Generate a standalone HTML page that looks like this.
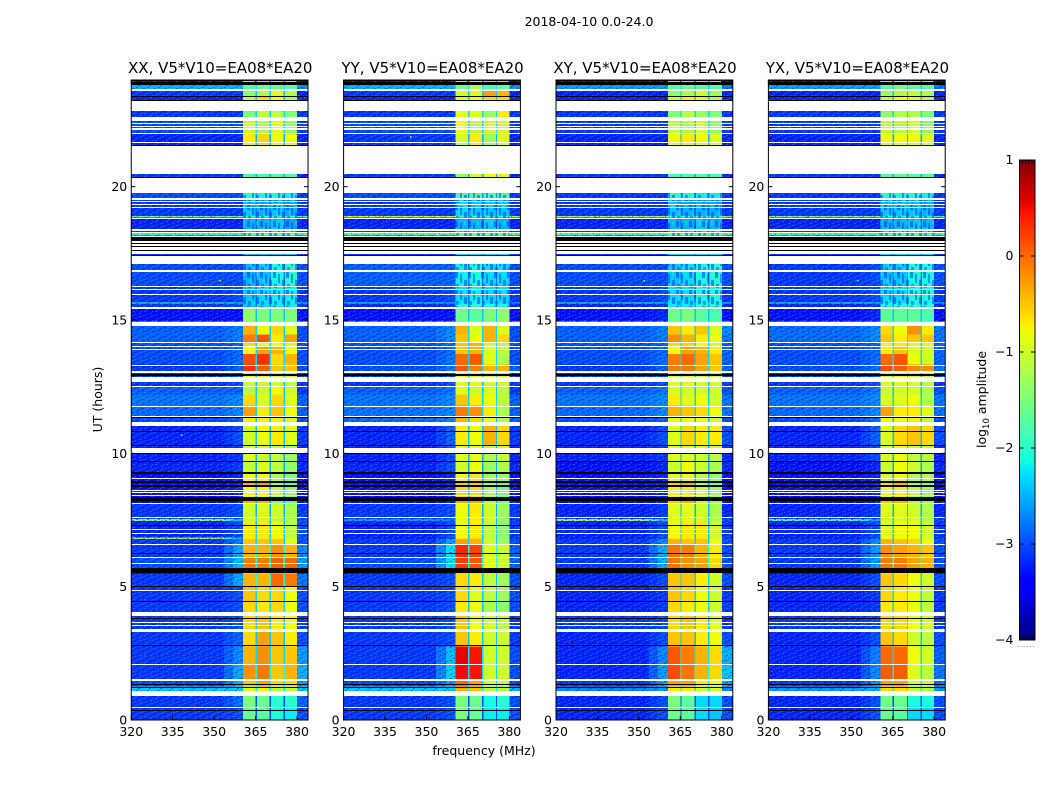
<!DOCTYPE html>
<html lang="en">
<head>
<meta charset="utf-8">
<title>2018-04-10 dynamic spectra</title>
<style>
html,body{margin:0;padding:0;background:#fff;width:1050px;height:800px;overflow:hidden}
svg{display:block}
text{font-family:"DejaVu Sans","Liberation Sans",sans-serif;fill:#000}
</style>
</head>
<body>
<svg id="chart" xmlns="http://www.w3.org/2000/svg" width="1050" height="800" viewBox="0 0 1050 800">
<defs>
<pattern id="speckle" patternUnits="userSpaceOnUse" width="11" height="9">
<g shape-rendering="crispEdges">
<rect x="0" y="0" width="2" height="1" fill="#30a0ff" opacity=".4"/>
<rect x="5" y="0" width="1" height="1" fill="#0000a0" opacity=".5"/>
<rect x="8" y="1" width="2" height="1" fill="#30a0ff" opacity=".45"/>
<rect x="2" y="1" width="2" height="1" fill="#0000a0" opacity=".4"/>
<rect x="6" y="2" width="1" height="1" fill="#30a0ff" opacity=".5"/>
<rect x="0" y="3" width="1" height="1" fill="#0000a0" opacity=".5"/>
<rect x="3" y="3" width="2" height="1" fill="#30a0ff" opacity=".4"/>
<rect x="9" y="3" width="2" height="1" fill="#0000a0" opacity=".4"/>
<rect x="6" y="4" width="2" height="1" fill="#0000a0" opacity=".45"/>
<rect x="1" y="5" width="2" height="1" fill="#30a0ff" opacity=".45"/>
<rect x="9" y="5" width="1" height="1" fill="#30a0ff" opacity=".45"/>
<rect x="4" y="6" width="2" height="1" fill="#0000a0" opacity=".45"/>
<rect x="0" y="7" width="2" height="1" fill="#0000a0" opacity=".4"/>
<rect x="7" y="7" width="2" height="1" fill="#30a0ff" opacity=".45"/>
<rect x="3" y="8" width="1" height="1" fill="#30a0ff" opacity=".45"/>
<rect x="10" y="8" width="1" height="1" fill="#0000a0" opacity=".45"/>
</g>
</pattern>
<pattern id="mottle" patternUnits="userSpaceOnUse" width="13" height="17">
<g shape-rendering="crispEdges">
<rect x="0" y="0" width="3" height="6" fill="#0030ff" opacity=".55"/>
<rect x="5" y="2" width="2" height="9" fill="#0030ff" opacity=".5"/>
<rect x="9" y="0" width="2" height="4" fill="#30ffc0" opacity=".35"/>
<rect x="3" y="7" width="2" height="5" fill="#30ffc0" opacity=".3"/>
<rect x="9" y="8" width="3" height="7" fill="#0030ff" opacity=".5"/>
<rect x="1" y="12" width="3" height="4" fill="#0030ff" opacity=".45"/>
<rect x="6" y="13" width="2" height="3" fill="#30ffc0" opacity=".3"/>
</g>
</pattern>
</defs>
<text x="589" y="26" text-anchor="middle" font-size="12.5">2018-04-10 0.0-24.0</text>
<text x="484" y="755" text-anchor="middle" font-size="12.5">frequency (MHz)</text>
<text transform="translate(102,399.5) rotate(-90)" text-anchor="middle" font-size="12.5">UT (hours)</text>
<text transform="translate(986,399.5) rotate(-90)" text-anchor="middle" font-size="12.5">log<tspan font-size="8.5" dy="3">10</tspan><tspan dy="-3"> amplitude</tspan></text>
</svg>
<script>
// --- axis tick values ---
const freqTicks = [320, 335, 350, 365, 380];
const utTicks = [0, 5, 10, 15, 20];
const colorTicks = [1, 0, -1, -2, -3, -4];

// --- polarisation panels ---
const panelNames = ["XX", "YY", "XY", "YX"];
const baselineLabel = ", V5*V10=EA08*EA20";

// --- frequency column edges (MHz): bg, shoulder-ramp, shoulder, A, gap, B, gap, C, gap, D, right ---
const freqEdges = [320, 353.5, 357, 360.5, 365, 365.5, 370.1, 370.6, 375.1, 375.6, 380, 384];

// --- UT row edges (hours), top to bottom ---
const utEdges = [24, 23.91, 23.65, 23.4, 22.85, 22.45, 22, 21.54, 20.34, 19.5, 18.9, 18.85, 18.41, 18.29, 18.16, 17.1, 16.28, 15.65, 15.61, 15.47, 15.41, 14.95, 14.91, 14.45, 14.16, 13.99, 13.72, 13.33, 13.03, 12.5, 12.2, 11.8, 11.4, 11.03, 10.3, 9.7, 9.3, 8.95, 8.8, 8.35, 8.1, 7.53, 7.47, 6.85, 6.79, 6.6, 6.11, 5.69, 5.5, 5.03, 4.45, 3.9, 3.3, 2.75, 2.1, 1.5, 1.25, 1, 0.5, 0];

// --- log10 amplitude per row: [bg, shoulder, A, B, C, D, gap, right] ---
const xxValues = [
[-3.5,-3.5,-1.6,-1.5,-1.6,-1.6,-3,-3.5],[-2.5,-2.5,-1.7,-1.5,-1.6,-1.7,-2.2,-2.7],[-3.1,-3.1,-1.4,-1.2,-0.9,-1.2,-2.4,-3.2],[-3.2,-3.2,-1.1,-0.6,-0.8,-1.3,-2.4,-3.2],[-3.1,-3.1,-1.5,-1.1,-1.1,-1.5,-2.3,-3.1],[-3,-3,-1,-1.2,-0.9,-1.4,-2.3,-3.1],[-3.2,-3.2,-0.7,-0.6,-0.8,-0.8,-2.5,-3.2],[-3.1,-3.1,-1.8,-1.8,-1.7,-1.8,-2.5,-3.2],[-3,-3,-2,-2.1,-2.1,-2.2,-2.6,-3.1],[-3.1,-3.1,-2.4,-2.5,-2.4,-2.5,-2.8,-3.1],
[-1.6,-1.6,-2,-2,-2,-2,-2.5,-1.7],[-3.2,-3.2,-2.5,-2.5,-2.4,-2.6,-2.9,-3.2],[-3.1,-3.1,-2.4,-2.4,-2.4,-2.4,-2.8,-3.1],[-1.9,-1.9,-1.6,-1.6,-1.6,-1.6,-2,-1.9],[-3.1,-3.1,-2.4,-2.4,-2.4,-2.4,-2.8,-3.1],[-3,-3,-2.5,-2.4,-2.1,-2,-2.8,-3],[-3.1,-3,-2.4,-2.3,-2.2,-2.2,-2.8,-3.1],[-1.8,-2.2,-2.3,-2.3,-2.2,-2.2,-2.6,-2.2],[-3.1,-3,-2.4,-2.3,-2.2,-2.2,-2.8,-3.1],[-0.7,-0.7,-1.5,-1.5,-1.5,-1.5,-1.5,-1],
[-3.3,-3.3,-1.4,-1.5,-1.5,-1.5,-2.4,-3.3],[-0.4,-0.5,-1,-1,-1,-1,-1.5,-0.8],[-2.9,-2.75,-0.4,-0.8,-0.6,-0.9,-2.3,-3],[-2.9,-2.75,-0.1,0.1,-0.7,-0.3,-2.3,-3],[-3,-2.9,-0.6,-0.8,-0.8,-1,-2.3,-3],[-3,-2.85,-0.8,-0.3,-0.4,-0.8,-2.3,-3],[-3,-2.85,0.15,0.3,-0.6,-0.4,-2.3,-3],[-3.1,-2.9,0.3,0.05,-0.5,-0.5,-2.3,-3],[-3.1,-3,-1,-1,-1,-1.1,-2.4,-3.1],[-2.9,-2.9,-1.1,-1,-0.8,-1,-2.4,-3.1],
[-2.8,-2.7,-0.6,-0.9,-0.6,-0.9,-2.3,-2.9],[-2.85,-2.7,-0.3,-0.7,-0.5,-0.8,-2.3,-2.9],[-3,-2.9,-0.7,-0.7,-0.7,-1,-2.4,-3],[-3.2,-3,-1,-0.8,-0.7,-0.9,-2.4,-3.1],[-3.2,-3.1,-0.9,-1,-1.1,-1.3,-2.5,-3.2],[-3.2,-3.1,-1.1,-0.9,-1.1,-1.4,-2.5,-3.2],[-3.3,-3.2,-0.8,-0.8,-1.2,-1.5,-2.6,-3.3],[-3.3,-3.2,-0.4,-0.3,-1.4,-1.7,-2.6,-3.3],[-3.3,-3.2,-0.8,-0.8,-1.1,-1.4,-2.5,-3.3],[-3.4,-3.3,-0.4,-0.4,-1.6,-1.8,-2.5,-3.3],
[-3.1,-3,-1,-0.9,-1,-1.2,-2.5,-3.1],[-1.4,-2.4,-1,-1,-1.2,-1.2,-2.2,-3],[-3.2,-3,-0.7,-0.7,-0.8,-1.1,-2.4,-3],[-1.2,-2.5,-0.7,-0.7,-0.7,-1,-2.2,-3],[-3.1,-2.8,-0.5,-0.5,-0.5,-0.9,-2.3,-3],[-3.1,-2.55,-0.4,-0.4,-0.2,-0.4,-2,-2.7],[-3,-2.45,-0.1,-0.1,0.05,0,-2,-2.6],[-3.4,-3.3,-0.8,-0.8,-0.6,-0.6,-2.5,-3.4],[-3.1,-2.55,-0.4,-0.4,0,-0.1,-2,-2.8],[-3.1,-3,-0.5,-0.6,-0.6,-0.8,-2.3,-3],
[-3.1,-3,-0.6,-0.7,-0.6,-0.8,-2.3,-3],[-3.1,-3,-0.6,-0.5,-0.7,-0.8,-2.4,-3.1],[-3.1,-2.9,-0.6,-0.3,-0.5,-0.7,-2.4,-3],[-3.1,-2.7,-0.4,-0.2,-0.5,-0.5,-2.3,-2.6],[-3.1,-2.55,-0.2,-0.1,-0.5,-0.4,-2.1,-2.5],[-3,-2.5,-0.5,-0.3,-0.6,-0.6,-2.2,-2.6],[-2.4,-2.4,-0.9,-0.9,-1.1,-1.1,-2.2,-2.4],[-3.1,-2.85,-1.5,-1.6,-2,-2,-3,-2.9],[-3.1,-3,-1.6,-1.7,-2.1,-2.2,-3,-3]];
const yyValues = [
[-3.5,-3.5,-1.5,-1.3,-1.6,-1.6,-3,-3.5],[-2.5,-2.5,-1.6,-1.2,-1.8,-1.6,-2.2,-2.7],[-3.1,-3.1,-1,-0.9,-0.3,-0.4,-2.4,-3.2],[-3.2,-3.2,-0.9,-0.8,-0.6,-0.6,-2.4,-3.2],[-3.1,-3.1,-0.9,-0.9,-1.3,-0.7,-2.3,-3.1],[-3,-3,-0.8,-1.2,-1,-1,-2.3,-3.1],[-3.1,-3.1,-1,-0.7,-1.3,-0.9,-2.5,-3.2],[-3.1,-3.1,-1.3,-1,-0.8,-0.9,-2.5,-3.2],[-3,-3,-1.8,-1.7,-1.8,-1.8,-2.6,-3.1],[-3.1,-3.1,-2.3,-2.4,-2.4,-2.4,-2.8,-3.1],
[-1,-1,-2,-2,-2,-2,-2.5,-1.2],[-3.2,-3.2,-2.5,-2.5,-2.4,-2.5,-2.9,-3.2],[-3.1,-3.1,-2.4,-2.4,-2.4,-2.4,-2.8,-3.1],[-1.7,-1.7,-1.5,-1.5,-1.5,-1.5,-2,-1.7],[-3.1,-3.1,-2.3,-2.3,-2.3,-2.3,-2.8,-3.1],[-2.9,-2.9,-2.2,-2.1,-2.3,-2.3,-2.8,-3],[-3.1,-3,-2.3,-2.2,-2.3,-2.3,-2.8,-3.1],[-2.1,-2.4,-2.3,-2.2,-2.3,-2.3,-2.6,-2.5],[-3.2,-3.1,-2.1,-2,-2.1,-2.1,-2.6,-3.2],[-3.2,-3.1,-1.7,-1.8,-1.6,-1.5,-2.4,-3.2],
[-3.3,-3.3,-1.6,-1.7,-1.5,-1.4,-2.4,-3.3],[-1,-1.1,-1.1,-1.1,-1.1,-1.1,-1.5,-1.2],[-2.9,-2.7,-0.4,-0.9,-0.4,-0.9,-2.3,-3],[-2.9,-2.7,-0.5,-0.8,-0.4,-0.6,-2.3,-3],[-3,-2.85,-0.5,-0.4,-1,-1.1,-2.3,-3],[-3,-2.85,-0.5,-0.4,-0.9,-1.1,-2.3,-3],[-3,-2.8,0,0.1,-0.9,-1.2,-2.3,-3],[-3,-2.8,0.1,-0.1,-0.4,-0.4,-2.3,-2.9],[-3.1,-3,-0.9,-0.9,-1,-1,-2.4,-3.1],[-2.9,-2.8,-0.9,-1,-0.9,-1.1,-2.4,-3.1],
[-2.8,-2.7,-0.5,-0.7,-0.8,-1.1,-2.3,-2.9],[-2.8,-2.7,-0.1,-0.2,-0.7,-1.2,-2.3,-2.9],[-2.85,-2.75,-0.4,-0.6,-0.8,-1.2,-2.4,-2.9],[-3.2,-2.9,-0.7,-0.8,-0.4,-0.6,-2.4,-3.1],[-3.2,-3,-0.9,-0.8,-1.2,-1,-2.5,-3.2],[-3.2,-3,-1,-0.8,-1.3,-1.2,-2.5,-3.2],[-3.3,-3.2,-0.8,-0.7,-1.3,-1.3,-2.6,-3.3],[-3.3,-3.2,-0.5,-0.5,-1.3,-1.6,-2.6,-3.3],[-3.3,-3.2,-0.6,-0.6,-1.3,-1.5,-2.5,-3.3],[-3.4,-3.3,-0.3,-0.3,-1.2,-1.6,-2.5,-3.3],
[-3.1,-3,-0.8,-0.7,-1,-1.3,-2.5,-3.1],[-2.6,-2.8,-0.9,-0.7,-1,-1.3,-2.5,-3.1],[-3.2,-3,-0.8,-0.7,-1.1,-1.4,-2.4,-3.1],[-3.2,-3,-0.7,-0.6,-1.1,-1.4,-2.4,-3.1],[-3.1,-2.6,-0.3,-0.4,-1,-1.3,-2.3,-3],[-3.1,-2.25,0.35,0.2,-0.9,-1,-2.1,-2.9],[-3,-2.25,0.25,0.1,-0.9,-1,-2.1,-2.9],[-3.4,-3.3,-0.6,-0.6,-1.1,-1.3,-2.5,-3.4],[-3.1,-3,-0.6,-0.7,-1.1,-1.3,-2.4,-3],[-3.1,-3,-0.6,-0.9,-1.1,-1.3,-2.4,-3],
[-3.1,-3,-0.7,-0.8,-1.2,-1.4,-2.4,-3],[-3.1,-3,-0.5,-0.8,-1,-1.1,-2.4,-3.1],[-3.1,-3,-0.5,-0.7,-1,-1,-2.4,-3.1],[-3.1,-2.45,0.55,0.45,-1,-1,-2.3,-3],[-3.1,-2.35,0.5,0.45,-1,-1,-2.3,-3],[-3,-2.6,0,-0.3,-1,-1.1,-2.3,-3],[-2.4,-2.4,-0.4,-0.5,-1.1,-1.2,-2.2,-2.5],[-3.1,-3,-1.5,-1.6,-2.1,-2,-3,-3],[-3.1,-3,-1.5,-1.6,-2.2,-2.2,-3,-3]];
const xyValues = [
[-3.5,-3.5,-1.6,-1.5,-1.6,-1.6,-3,-3.5],[-2.6,-2.6,-1.7,-1.6,-1.7,-1.7,-2.3,-2.8],[-3.2,-3.2,-1.4,-1.2,-1,-1.3,-2.4,-3.2],[-3.2,-3.2,-1.1,-0.7,-0.9,-1.2,-2.4,-3.2],[-3.1,-3.1,-1.5,-1.1,-1.3,-1.5,-2.3,-3.1],[-3.1,-3.1,-1.1,-1.2,-1,-1.4,-2.3,-3.1],[-3.2,-3.2,-0.8,-0.7,-0.8,-0.9,-2.5,-3.2],[-3.1,-3.1,-1.8,-1.8,-1.7,-1.8,-2.5,-3.2],[-3.1,-3.1,-2,-2.1,-2.2,-2.2,-2.6,-3.1],[-3.1,-3.1,-2.4,-2.5,-2.5,-2.5,-2.8,-3.1],
[-1.2,-1.2,-2,-2,-2,-2,-2.5,-1.4],[-3.2,-3.2,-2.5,-2.5,-2.4,-2.5,-2.9,-3.2],[-3.1,-3.1,-2.4,-2.4,-2.4,-2.4,-2.8,-3.1],[-1.8,-1.8,-1.6,-1.6,-1.6,-1.6,-2,-1.8],[-3.1,-3.1,-2.3,-2.3,-2.3,-2.3,-2.8,-3.1],[-3,-3,-2.4,-2.3,-2.1,-2,-2.8,-3],[-3.1,-3,-2.3,-2.3,-2.1,-2.1,-2.8,-3.1],[-1.8,-2.2,-2.3,-2.3,-2.2,-2.2,-2.6,-2.2],[-3.2,-3.1,-2.2,-2.2,-2,-2,-2.6,-3.2],[-0.8,-0.8,-1.6,-1.6,-1.6,-1.6,-1.8,-1.2],
[-3.3,-3.2,-1.6,-1.5,-1.7,-1.8,-2.4,-3.3],[-0.6,-0.7,-1.2,-1.2,-1.2,-1.2,-1.5,-1],[-2.9,-2.75,-0.5,-0.7,-0.5,-0.9,-2.3,-2.7],[-2.9,-2.75,-0.2,-0.4,-0.7,-0.8,-2.3,-2.8],[-3,-2.9,-0.6,-0.6,-0.8,-1,-2.3,-2.9],[-3,-2.85,-0.8,-0.3,-0.4,-0.7,-2.3,-2.9],[-3,-2.85,-0.1,0,-0.3,-0.5,-2.3,-2.9],[-3.1,-2.9,-0.1,-0.1,-0.3,-0.5,-2.3,-2.9],[-3.1,-3,-0.9,-0.9,-1,-1,-2.4,-3.1],[-2.9,-2.8,-0.9,-1,-1,-1,-2.4,-3],
[-2.8,-2.7,-0.7,-0.9,-0.8,-1,-2.3,-2.8],[-2.85,-2.7,-0.4,-0.5,-0.6,-0.8,-2.3,-2.8],[-3,-2.9,-0.8,-0.8,-0.8,-1,-2.4,-3],[-3.2,-3,-0.9,-0.6,-0.7,-0.7,-2.4,-3],[-3.2,-3.1,-0.9,-0.9,-1,-1.1,-2.5,-3.2],[-3.3,-3.2,-1,-0.8,-1,-1.2,-2.5,-3.2],[-3.3,-3.2,-0.9,-0.8,-1.1,-1.4,-2.6,-3.3],[-3.3,-3.2,-0.5,-0.4,-1.1,-1.6,-2.6,-3.3],[-3.3,-3.2,-0.7,-0.7,-1,-1.3,-2.5,-3.3],[-3.4,-3.3,-0.5,-0.4,-1.1,-1.4,-2.5,-3.3],
[-3.2,-3.1,-0.9,-0.9,-1,-1.2,-2.5,-3.2],[-1.3,-2.4,-0.9,-0.9,-1,-1.2,-2.3,-3],[-3.2,-3,-0.8,-0.7,-0.7,-1,-2.4,-3.1],[-3.2,-3,-0.7,-0.7,-0.7,-1,-2.4,-3.1],[-3.1,-2.7,-0.4,-0.5,-0.5,-0.8,-2.3,-3],[-3.1,-2.5,-0.05,-0.1,-0.4,-0.7,-2,-3],[-3.1,-2.5,-0.05,-0.2,-0.3,-0.6,-2,-3],[-3.5,-3.4,-0.7,-0.7,-0.8,-0.9,-2.5,-3.4],[-3.2,-3,-0.5,-0.5,-0.7,-1,-2.3,-3],[-3.2,-3.1,-0.5,-0.6,-0.8,-1,-2.3,-3.1],
[-3.2,-3.1,-0.6,-0.7,-0.8,-1,-2.3,-3.1],[-3.1,-3,-0.6,-0.5,-0.7,-0.9,-2.4,-3.1],[-3.2,-3,-0.5,-0.5,-0.7,-0.8,-2.4,-3],[-3.2,-2.7,0.1,-0.1,-0.4,-0.6,-2.2,-2.5],[-3.2,-2.6,0.15,-0.05,-0.4,-0.6,-2.1,-2.4],[-3.1,-2.6,-0.3,-0.3,-0.7,-0.8,-2.2,-2.6],[-2.7,-2.6,-0.7,-0.7,-1,-1,-2.2,-2.7],[-3.2,-3,-1.5,-1.7,-2.3,-2.3,-3,-3],[-3.2,-3,-1.6,-1.7,-2.3,-2.4,-3,-3]];
const yxValues = [
[-3.5,-3.5,-1.6,-1.5,-1.6,-1.6,-3,-3.5],[-2.6,-2.6,-1.7,-1.5,-1.7,-1.7,-2.3,-2.8],[-3.2,-3.2,-1.3,-1.2,-1.1,-1.2,-2.4,-3.2],[-3.2,-3.2,-1.1,-0.8,-0.9,-1.2,-2.4,-3.2],[-3.1,-3.1,-1.4,-1.2,-1.2,-1.5,-2.3,-3.1],[-3.1,-3.1,-1.1,-1.2,-1,-1.4,-2.3,-3.1],[-3.2,-3.2,-0.8,-0.8,-0.8,-0.9,-2.5,-3.2],[-3.1,-3.1,-1.7,-1.7,-1.7,-1.8,-2.5,-3.2],[-3.1,-3.1,-2,-2.1,-2.1,-2.2,-2.6,-3.1],[-3.1,-3.1,-2.4,-2.4,-2.4,-2.5,-2.8,-3.1],
[-1.5,-1.5,-2.1,-2.1,-2.1,-2.1,-2.5,-1.7],[-3.2,-3.2,-2.5,-2.5,-2.4,-2.5,-2.9,-3.2],[-3.1,-3.1,-2.4,-2.4,-2.4,-2.4,-2.8,-3.1],[-1.9,-1.9,-1.7,-1.7,-1.7,-1.7,-2,-1.9],[-3.1,-3.1,-2.3,-2.3,-2.3,-2.3,-2.8,-3.1],[-3.1,-3,-2.4,-2.4,-2.1,-2.1,-2.8,-3],[-3.1,-3,-2.3,-2.3,-2.1,-2.1,-2.8,-3.1],[-1.9,-2.2,-2.2,-2.2,-2.2,-2.2,-2.6,-2.2],[-3.2,-3.1,-2.1,-2.1,-2,-2,-2.6,-3.2],[-3.2,-3.2,-1.7,-1.7,-1.7,-1.7,-2.2,-3.2],
[-3.3,-3.2,-1.7,-1.7,-1.7,-1.8,-2.4,-3.3],[-0.3,-0.4,-1,-1,-1,-1,-1.5,-0.6],[-2.85,-2.7,-0.6,-0.8,-0.2,-0.7,-2.3,-2.8],[-2.85,-2.7,-0.5,-0.7,-0.5,-0.5,-2.3,-2.8],[-3,-2.9,-0.8,-0.7,-0.9,-0.9,-2.3,-2.9],[-3,-2.85,-0.7,-0.5,-0.9,-1,-2.3,-2.9],[-3,-2.85,0,0.1,-0.8,-1,-2.3,-2.9],[-3,-2.85,0.15,0.05,-0.15,-0.2,-2.2,-2.8],[-3.1,-3,-0.9,-0.9,-1,-1.1,-2.4,-3.1],[-2.9,-2.8,-1,-1,-1,-1.2,-2.4,-3],
[-2.8,-2.7,-0.9,-0.9,-0.8,-1.2,-2.3,-2.8],[-2.85,-2.7,-0.3,-0.7,-0.7,-0.9,-2.3,-2.8],[-3,-2.85,-0.8,-0.8,-0.7,-1.1,-2.4,-3],[-3.2,-2.9,-0.9,-0.6,-0.5,-0.6,-2.4,-3],[-3.2,-3,-0.9,-0.8,-1.1,-1.1,-2.5,-3.2],[-3.3,-3.2,-1,-0.8,-1,-1.2,-2.5,-3.2],[-3.3,-3.2,-0.9,-0.8,-1.2,-1.2,-2.6,-3.3],[-3.3,-3.2,-0.6,-0.4,-1.3,-1.5,-2.6,-3.3],[-3.3,-3.2,-0.8,-0.7,-1.1,-1.3,-2.5,-3.3],[-3.4,-3.3,-0.5,-0.4,-1.3,-1.4,-2.5,-3.3],
[-3.2,-3.1,-0.9,-0.9,-1,-1.2,-2.5,-3.2],[-1.8,-2.6,-1,-1,-1,-1.2,-2.3,-3],[-3.2,-3,-0.9,-0.8,-0.8,-1,-2.4,-3.1],[-3.2,-3,-0.8,-0.8,-0.8,-1,-2.4,-3.1],[-3.1,-2.7,-0.4,-0.5,-0.6,-0.8,-2.3,-3],[-3.1,-2.6,-0.2,-0.3,-0.4,-0.5,-2,-3],[-3.1,-2.6,-0.1,-0.1,-0.3,-0.4,-2,-3],[-3.5,-3.4,-0.8,-0.8,-0.8,-0.9,-2.5,-3.4],[-3.2,-3,-0.5,-0.6,-0.8,-1,-2.3,-3],[-3.2,-3.1,-0.6,-0.7,-0.8,-1.1,-2.3,-3.1],
[-3.2,-3.1,-0.7,-0.7,-0.8,-1.1,-2.3,-3.1],[-3.1,-3,-0.6,-0.6,-0.8,-1,-2.4,-3.1],[-3.2,-3,-0.5,-0.6,-1,-1.1,-2.4,-3],[-3.2,-2.75,0,0,-0.8,-1,-2.3,-2.9],[-3.2,-2.7,0.05,0.05,-0.9,-1.1,-2.2,-2.8],[-3.1,-2.7,-0.3,-0.3,-1,-1,-2.2,-2.8],[-2.6,-2.5,-0.6,-0.6,-1.1,-1.2,-2.2,-2.6],[-3.2,-3,-1.6,-1.6,-2.1,-2.1,-3,-3],[-3.2,-3,-1.6,-1.7,-2.3,-2.3,-3,-3]];
const panelValues = [xxValues, yyValues, xyValues, yxValues];

// --- flagged time ranges [low UT, high UT]: blank (white) and zero-amplitude (black) ---
const blankRanges = [[23.59,23.65],[22.85,23.21],[22.45,22.62],[22.35,22.38],[22.26,22.29],[22.19,22.21],[22.13,22.15],[21.98,22.01],[21.65,21.69],[20.48,21.54],[19.77,20.34],[19.5,19.58],[19.41,19.45],[19.31,19.35],[19.2,19.23],[18.8,18.84],[18.34,18.41],[18.26,18.29],[18.12,18.16],[17.89,17.95],[17.78,17.86],[17.61,17.75],[17.49,17.58],[17.1,17.41],[16.85,16.88],[16.8,16.83],[16.24,16.28],[16.13,16.16],[15.96,15.99],[15.43,15.47],[14.78,14.91],[14.12,14.16],[13.99,14.04],[13.9,13.93],[13.29,13.33],[13.03,13.07],[12.68,12.88],[12.49,12.53],[11.76,11.79],[11.36,11.4],[11.03,11.16],[10.02,10.21],[9.04,9.08],[8.6,8.64],[8.51,8.55],[8.4,8.44],[8.1,8.14],[7.58,7.61],[7.13,7.16],[6.98,7.01],[6.56,6.6],[6.08,6.11],[5.85,5.89],[4.84,4.88],[3.9,4.05],[3.64,3.68],[3.51,3.55],[3.3,3.4],[2.06,2.1],[1.46,1.54],[0.9,1.09],[0.45,0.49]];
const zeroRanges = [[23.96,24],[23.83,23.91],[23.37,23.41],[23.21,23.25],[21.54,21.56],[20.34,20.36],[17.95,18.12],[17.86,17.89],[17.75,17.78],[17.58,17.61],[17.41,17.44],[12.9,12.99],[11.34,11.36],[10.8,10.82],[10.28,10.3],[9.98,10],[9.68,9.7],[9.23,9.3],[8.9,8.96],[8.75,8.8],[8.22,8.35],[7.28,7.3],[6.23,6.25],[5.52,5.69],[5,5.03],[4.43,4.45],[3.81,3.84],[2.78,2.8],[1.31,1.34],[1.2,1.24],[0.34,0.39]];

// --- time span where band power is patchy (hours) ---
const mottledSpan = [15.47, 20.34];

// --- isolated bright samples: panel index, MHz, UT, log10 amplitude ---
const speckPanels = [0,0,1,2,3,0,2,2,2,2,0,0,1,2,3,1,0,3,0];
const speckFreqs = [334,348.6,334,334,334,352,351.6,324.6,324.6,342.7,342.5,324.4,334,335,335,344,352,352,338];
const speckUTs = [18.88,18.88,18.88,18.88,18.88,16.5,16.5,2.92,2.45,0.56,0.56,2.43,15.45,15.45,14.93,21.9,23.05,16.5,10.7];
const speckAmps = [0.4,0.4,0.5,0.5,0.5,-0.9,-1.5,0.4,0.5,0.5,0.4,0.4,-0.5,0.4,0.4,-0.7,-0.7,-1.5,-1.5];

// --- scales ---
const axWidth = 176.8, axTop = 80, axBottom = 720;
const panelLefts = [131.25, 343.6, 556, 768.4];
const freqMin = 320, freqMax = 384, utMin = 0, utMax = 24;
const cbLeft = 1019.5, cbRight = 1035, cbTop = 160, cbBottom = 640, ampMin = -4, ampMax = 1;
function xScale(panel, mhz) { return panelLefts[panel] + (mhz - freqMin) / (freqMax - freqMin) * axWidth; }
function yScale(ut) { return axBottom - (ut - utMin) / (utMax - utMin) * (axBottom - axTop); }
function ampY(a) { return cbBottom - (a - ampMin) / (ampMax - ampMin) * (cbBottom - cbTop); }
function jet(a) {
  const t = Math.max(0, Math.min(1, (a - ampMin) / (ampMax - ampMin)));
  const c = (x) => Math.round(255 * Math.max(0, Math.min(1, x)));
  const r = t < 0.35 ? 0 : t < 0.66 ? (t - 0.35) / 0.31 : t < 0.89 ? 1 : 1 - 0.5 * (t - 0.89) / 0.11;
  const g = t < 0.125 ? 0 : t < 0.375 ? (t - 0.125) / 0.25 : t < 0.64 ? 1 : t < 0.91 ? 1 - (t - 0.64) / 0.27 : 0;
  const b = t < 0.11 ? 0.5 + 0.5 * t / 0.11 : t < 0.34 ? 1 : t < 0.65 ? 1 - (t - 0.34) / 0.31 : 0;
  return 'rgb(' + c(r) + ',' + c(g) + ',' + c(b) + ')';
}

const NS = 'http://www.w3.org/2000/svg';
const root = document.getElementById('chart');
function svgEl(parent, tag, attrs) {
  const el = document.createElementNS(NS, tag);
  for (const k in attrs) el.setAttribute(k, attrs[k]);
  parent.appendChild(el);
  return el;
}

// value-row index for each frequency column; -1 is the ramp between bg and shoulder
const columnOrder = [0, -1, 1, 2, 6, 3, 6, 4, 6, 5, 7];

panelNames.forEach(function (pol, p) {
  const g = svgEl(root, 'g', {});
  
  
  const cells = svgEl(g, 'g', { 'shape-rendering': 'crispEdges' });
  
  
  const values = panelValues[p];
  for (let r = 0; r < utEdges.length - 1; r++) {
    const yTop = yScale(utEdges[r]), yBot = yScale(utEdges[r + 1]);
    for (let c = 0; c < freqEdges.length - 1; c++) {
      const x0 = xScale(p, freqEdges[c]), x1 = xScale(p, freqEdges[c + 1]);
      const idx = columnOrder[c];
      const v = idx < 0 ? (values[r][0] + values[r][1]) / 2 : values[r][idx];
      const cell = svgEl(cells, 'rect', { x: x0.toFixed(2), y: yTop.toFixed(2), width: (x1 - x0).toFixed(2), height: (yBot - yTop).toFixed(2), fill: jet(v) });
      
      
    }
  }
  // background receiver noise texture
  const noiseL = svgEl(g, 'rect', { x: xScale(p, freqMin), y: axTop, width: xScale(p, freqEdges[3]) - xScale(p, freqMin), height: axBottom - axTop, fill: 'url(#speckle)' });
  
  
  const noiseR = svgEl(g, 'rect', { x: xScale(p, freqEdges[10]), y: axTop, width: xScale(p, freqMax) - xScale(p, freqEdges[10]), height: axBottom - axTop, fill: 'url(#speckle)' });
  
  
  // patchy band power during the low-signal hours
  const mottle = svgEl(g, 'rect', { x: xScale(p, freqEdges[3]), y: yScale(mottledSpan[1]), width: xScale(p, freqEdges[10]) - xScale(p, freqEdges[3]), height: yScale(mottledSpan[0]) - yScale(mottledSpan[1]), fill: 'url(#mottle)' });
  
  

  speckPanels.forEach(function (sp, i) {
    if (sp !== p) return;
    const s = svgEl(g, 'rect', { x: xScale(p, speckFreqs[i]).toFixed(2), y: yScale(speckUTs[i]).toFixed(2), width: 1.5, height: 1.5, fill: jet(speckAmps[i]), 'shape-rendering': 'crispEdges' });
    
    
  });

  blankRanges.forEach(function (rg) {
    const yT = Math.round(yScale(rg[1])), yB = Math.max(Math.round(yScale(rg[0])), yT + 1);
    const b = svgEl(g, 'rect', { x: panelLefts[p], y: yT, width: axWidth, height: yB - yT, fill: '#fff', 'shape-rendering': 'crispEdges' });
    
    
  });
  zeroRanges.forEach(function (rg) {
    const yT = Math.round(yScale(rg[1])), yB = Math.max(Math.round(yScale(rg[0])), yT + 1);
    const b = svgEl(g, 'rect', { x: panelLefts[p], y: yT, width: axWidth, height: yB - yT, fill: '#000', 'shape-rendering': 'crispEdges' });
    
    
  });

  const frame = svgEl(g, 'rect', { x: panelLefts[p], y: axTop, width: axWidth, height: axBottom - axTop, fill: 'none', stroke: '#000', 'stroke-width': 1 });
  
  

  freqTicks.forEach(function (f) {
    const x = xScale(p, f);
    const t1 = svgEl(g, 'line', { x1: x, x2: x, y1: axBottom, y2: axBottom - 4, stroke: '#000', 'stroke-width': 1 });
    
    
    const t2 = svgEl(g, 'line', { x1: x, x2: x, y1: axTop, y2: axTop + 4, stroke: '#000', 'stroke-width': 1 });
    
    
    const lab = svgEl(g, 'text', { x: x, y: 736, 'text-anchor': 'middle', 'font-size': 12.5 });
    
    
    lab.textContent = f;
  });
  utTicks.forEach(function (u) {
    const y = yScale(u);
    const t1 = svgEl(g, 'line', { x1: panelLefts[p], x2: panelLefts[p] + 4, y1: y, y2: y, stroke: '#000', 'stroke-width': 1 });
    
    
    const t2 = svgEl(g, 'line', { x1: panelLefts[p] + axWidth, x2: panelLefts[p] + axWidth - 4, y1: y, y2: y, stroke: '#000', 'stroke-width': 1 });
    
    
    const lab = svgEl(g, 'text', { x: panelLefts[p] - 4, y: y + 4.5, 'text-anchor': 'end', 'font-size': 12.5 });
    
    
    lab.textContent = u;
  });

  const title = svgEl(g, 'text', { x: panelLefts[p] + axWidth / 2 + 0.6, y: 73, 'text-anchor': 'middle', 'font-size': 15 });
  
  
  title.textContent = pol + baselineLabel;
});

// colorbar
const cb = svgEl(root, 'g', {});


for (let i = 0; i < 240; i++) {
  const aTop = ampMax - i * (ampMax - ampMin) / 240;
  const aBot = ampMax - (i + 1) * (ampMax - ampMin) / 240;
  const seg = svgEl(cb, 'rect', { x: cbLeft, y: ampY(aTop), width: cbRight - cbLeft, height: ampY(aBot) - ampY(aTop) + 0.5, fill: jet((aTop + aBot) / 2), 'shape-rendering': 'crispEdges' });
  
  
}
const cbFrame = svgEl(cb, 'rect', { x: cbLeft, y: cbTop, width: cbRight - cbLeft, height: cbBottom - cbTop, fill: 'none', stroke: '#000', 'stroke-width': 1 });


colorTicks.forEach(function (a) {
  const y = ampY(a);
  const t1 = svgEl(cb, 'line', { x1: cbLeft, x2: cbLeft + 4, y1: y, y2: y, stroke: '#000', 'stroke-width': 1 });
  
  
  const t2 = svgEl(cb, 'line', { x1: cbRight, x2: cbRight - 4, y1: y, y2: y, stroke: '#000', 'stroke-width': 1 });
  
  
  const lab = svgEl(cb, 'text', { x: 1013.5, y: y + 4, 'text-anchor': 'end', 'font-size': 12.5 });
  
  
  lab.textContent = a < 0 ? '\u2212' + Math.abs(a) : a;
});
for (let i = 0; i < 6; i++) {
  const x = cbLeft + i * (cbRight - cbLeft) / 5;
  const t1 = svgEl(cb, 'line', { x1: x, x2: x, y1: cbTop, y2: cbTop + 4, stroke: '#000', 'stroke-width': 1 });
  
  
  const t2 = svgEl(cb, 'line', { x1: x, x2: x, y1: cbBottom, y2: cbBottom - 4, stroke: '#000', 'stroke-width': 1 });
  
  
  const dot = svgEl(cb, 'rect', { x: x - 2, y: 646, width: 1, height: 1, fill: '#999', 'shape-rendering': 'crispEdges' });
  
  
}
</script>
</body>
</html>
